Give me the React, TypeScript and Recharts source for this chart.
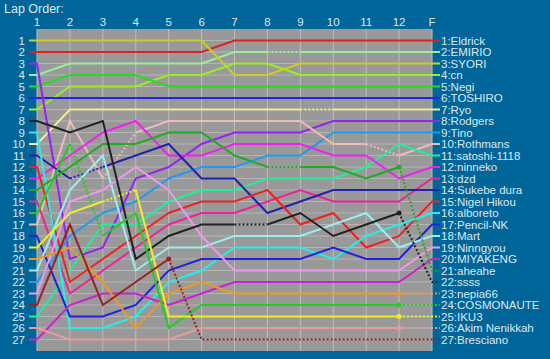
import React from "react";
import { LineChart, Line, XAxis, YAxis, ReferenceArea, ReferenceLine } from "recharts";

const laps = ["1", "2", "3", "4", "5", "6", "7", "8", "9", "10", "11", "12", "F"];
const ranks = Array.from({ length: 27 }, (_, i) => i + 1);

// position after each lap (1..12, F)
const eldrick = [2, 2, 2, 2, 2, 2, 1, 1, 1, 1, 1, 1, 1];
const emirio = [4, 3, 3, 3, 3, 3, 2, 2, 2, 2, 2, 2, 2];
const syori = [1, 1, 1, 1, 1, 1, 4, 4, 3, 3, 3, 3, 3];
const cn = [7, 5, 5, 5, 4, 4, 3, 3, 4, 4, 4, 4, 4];
const negi = [5, 4, 4, 4, 5, 5, 5, 5, 5, 5, 5, 5, 5];
const toshiro = [6, 6, 6, 6, 6, 6, 6, 6, 6, 6, 6, 6, 6];
const ryo = [10, 7, 7, 7, 7, 7, 7, 7, 7, 7, 7, 7, 7];
const rodgers = [3, 20, 19, 13, 12, 10, 9, 9, 9, 8, 8, 8, 8];
const tino = [22, 18, 16, 15, 13, 12, 12, 11, 11, 9, 9, 9, 9];
const rothmans = [17, 8, 13, 9, 8, 8, 8, 8, 8, 10, 10, 11, 10];
const satoshi = [25, 21, 17, 17, 15, 14, 14, 13, 13, 13, 12, 10, 11];
const ninneko = [13, 11, 9, 8, 11, 11, 10, 10, 10, 11, 11, 13, 12];
const dzd = [15, 23, 21, 19, 17, 16, 16, 15, 14, 15, 15, 15, 13];
const sukebe = [11, 13, 12, 11, 10, 13, 13, 16, 15, 14, 14, 14, 14];
const nigel = [12, 22, 20, 18, 16, 15, 15, 14, 17, 16, 19, 18, 15];
const alboreto = [9, 26, 26, 25, 22, 21, 19, 19, 19, 20, 18, 17, 16];
const pencil = [18, 25, 25, 24, 21, 20, 20, 20, 20, 19, 20, 20, 17];
const mart = [21, 14, 11, 21, 19, 19, 18, 18, 18, 17, 16, 19, 18];
const ninngyou = [23, 15, 14, 12, 14, 18, 21, 21, 21, 21, 21, 21, 19];
const miyakeng = [27, 24, 23, 23, 24, 23, 22, 22, 22, 22, 22, 22, 20];
const aheahe = [14, 12, 10, 10, 9, 9, 11, 12, 12, 12, 13, 12, 21];
const ssss = [8, 9, 8, 20, 18, 17, 17, 17, 16, 18, 17, 16, 22];
const nepia66 = [20, 19, 22, 26, 23, 22, 23, 23, 23, 23, 23, 23, 23];
const cosmonaute = [16, 10, 18, 16, 26, 24, 24, 24, 24, 24, 24, 24, 24];
const iku3 = [19, 16, 15, 14, 25, 25, 25, 25, 25, 25, 25, 25, 25];
const akim = [26, 27, 27, 27, 27, 26, 26, 26, 26, 26, 26, 26, 26];
const bresciano = [24, 17, 24, 22, 20, 27, 27, 27, 27, 27, 27, 27, 27];

// dotted segments: index i = lap i+1 -> lap i+2
const drivers = [
  { name: "Eldrick", color: "#dd2222", pos: eldrick, dots: [] as number[] },
  { name: "EMIRIO", color: "#99ee99", pos: emirio, dots: [7] },
  { name: "SYORI", color: "#cccc22", pos: syori, dots: [] },
  { name: "cn", color: "#99ee22", pos: cn, dots: [] },
  { name: "Negi", color: "#22dd22", pos: negi, dots: [] },
  { name: "TOSHIRO", color: "#2222ee", pos: toshiro, dots: [] },
  { name: "Ryo", color: "#eeee99", pos: ryo, dots: [8] },
  { name: "Rodgers", color: "#9922ee", pos: rodgers, dots: [] },
  { name: "Tino", color: "#2299ee", pos: tino, dots: [] },
  { name: "Rothmans", color: "#eebbbb", pos: rothmans, dots: [2, 10] },
  { name: "satoshi-1118", color: "#22ee99", pos: satoshi, dots: [] },
  { name: "ninneko", color: "#ee22ee", pos: ninneko, dots: [] },
  { name: "dzd", color: "#ee2299", pos: dzd, dots: [] },
  { name: "Sukebe dura", color: "#2222aa", pos: sukebe, dots: [1] },
  { name: "Nigel Hikou", color: "#ee2222", pos: nigel, dots: [] },
  { name: "alboreto", color: "#22eeee", pos: alboreto, dots: [] },
  { name: "Pencil-NK", color: "#2222dd", pos: pencil, dots: [] },
  { name: "Mart", color: "#99eeee", pos: mart, dots: [] },
  { name: "Ninngyou", color: "#ee99ee", pos: ninngyou, dots: [] },
  { name: "MIYAKENG", color: "#cc22cc", pos: miyakeng, dots: [] },
  { name: "aheahe", color: "#22aa22", pos: aheahe, dots: [7, 11] },
  { name: "ssss", color: "#222222", pos: ssss, dots: [6, 11] },
  { name: "nepia66", color: "#ee9922", pos: nepia66, dots: [11] },
  { name: "COSMONAUTE", color: "#22cc22", pos: cosmonaute, dots: [1, 11] },
  { name: "IKU3", color: "#eeee22", pos: iku3, dots: [2, 11] },
  { name: "Akim Nenikkah", color: "#ee9999", pos: akim, dots: [11] },
  { name: "Bresciano", color: "#992222", pos: bresciano, dots: [4, 5, 6, 7, 8, 9, 10, 11] },
];

const STUB = 0.243;
const xs = [1 - STUB, ...laps.map((_, i) => i + 1), laps.length + STUB];

const rows: Record<string, number | null>[] = xs.map((x) => ({ x }));
const lines: { key: string; color: string; dotted: boolean; start: number; retired: boolean }[] = [];

drivers.forEach((d, di) => {
  const pts = [d.pos[0], ...d.pos, d.pos[d.pos.length - 1]];
  const last = pts.length - 2;
  const dotted = (k: number) => (k === 0 ? false : k === last ? d.dots.includes(11) : d.dots.includes(k - 1));
  let start = 0;
  let run = 0;
  for (let k = 1; k <= last + 1; k++) {
    if (k === last + 1 || dotted(k) !== dotted(start)) {
      const key = `d${di}_${run}`;
      for (let j = start; j <= k; j++) rows[j][key] = pts[j];
      lines.push({ key, color: d.color, dotted: dotted(start), start, retired: dotted(start) && k === last + 1 });
      start = k;
      run++;
    }
  }
});

const finalNames = ranks.map((r) => drivers.find((d) => d.pos[d.pos.length - 1] === r)?.name ?? "");

const textColor = "#dce8f0";
const font = '"Liberation Sans", Arial, sans-serif';

const RightTick = (props: any) => {
  const { x, y, payload } = props;
  return (
    <text x={x} y={y} dy="0.355em" textAnchor="start" fill={textColor} fontSize={11.5} fontFamily={font}>
      {`${payload.value}:${finalNames[payload.value - 1]}`}
    </text>
  );
};

export default function App() {
  return (
    <div style={{ position: "absolute", left: 0, top: 0, width: 550, height: 359, background: "#006699", fontFamily: font }}>
      <div style={{ position: "absolute", left: 4, top: 2, fontSize: 12.5, color: textColor }}>Lap Order:</div>
      <LineChart width={550} height={359} data={rows} margin={{ top: 0, right: 0, bottom: 8, left: 0 }}>
        <XAxis
          dataKey="x"
          type="number"
          orientation="top"
          domain={[1 - STUB, laps.length + STUB]}
          ticks={laps.map((_, i) => i + 1)}
          tickFormatter={(v: number) => laps[v - 1]}
          interval={0}
          height={29}
          tickSize={0}
          tickMargin={3}
          axisLine={false}
          tickLine={false}
          allowDataOverflow
          tick={{ fill: textColor, fontSize: 11.5, fontFamily: font }}
        />
        <YAxis
          yAxisId="left"
          type="number"
          domain={[0, 28]}
          reversed
          ticks={ranks}
          interval={0}
          width={29}
          tickSize={0}
          tickMargin={4}
          axisLine={false}
          tickLine={false}
          allowDataOverflow
          tick={{ fill: textColor, fontSize: 11.5, fontFamily: font }}
        />
        <YAxis
          yAxisId="right"
          orientation="right"
          type="number"
          domain={[0, 28]}
          reversed
          ticks={ranks}
          interval={0}
          width={110}
          tickSize={0}
          tickMargin={1}
          axisLine={false}
          tickLine={false}
          allowDataOverflow
          tick={<RightTick />}
        />
        <ReferenceArea yAxisId="left" x1={1} x2={laps.length} y1={0} y2={28} fill="#999999" fillOpacity={1} stroke="none" />
        {laps.map((_, i) => (
          <ReferenceLine key={`v${i}`} yAxisId="left" x={i + 1} stroke="#bdbdbd" strokeWidth={1} />
        ))}
        {ranks.map((r) => (
          <ReferenceLine
            key={`h${r}`}
            yAxisId="left"
            segment={[{ x: 1, y: r }, { x: laps.length, y: r }]}
            stroke="#b5b5b5"
            strokeWidth={1}
          />
        ))}
        {lines.map((l) => (
          <Line
            key={l.key}
            yAxisId="left"
            dataKey={l.key}
            type="linear"
            stroke={l.color}
            strokeWidth={2}
            strokeDasharray={l.dotted ? "2 2" : undefined}
            dot={(p: any) =>
              l.retired && p.index === l.start ? (
                <circle key={`${l.key}-dot`} cx={p.cx} cy={p.cy} r={2.5} fill={l.color} stroke="none" />
              ) : (
                <g key={`${l.key}-n${p.index}`} />
              )
            }
            activeDot={false}
            connectNulls={false}
            isAnimationActive={false}
          />
        ))}
      </LineChart>
    </div>
  );
}
